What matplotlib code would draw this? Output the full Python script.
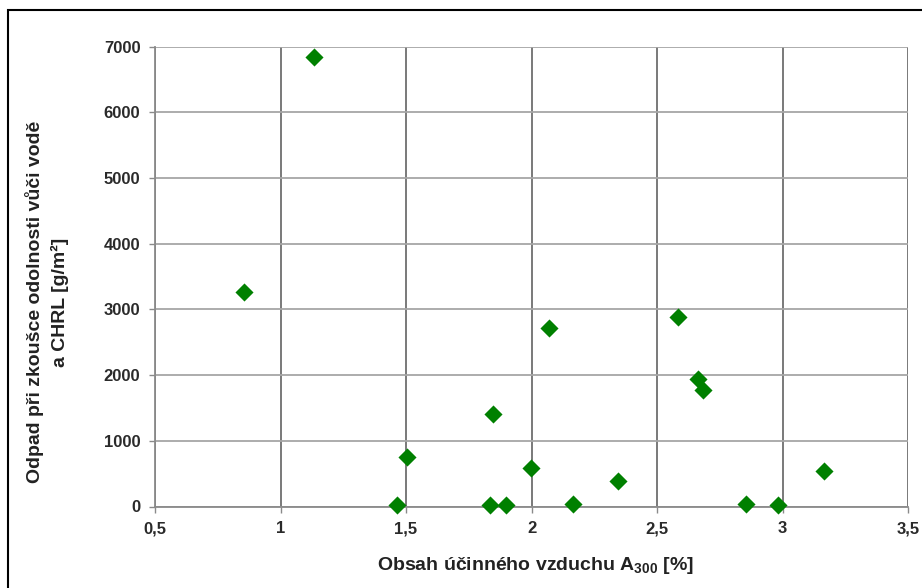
import matplotlib
matplotlib.use("Agg")
import matplotlib.pyplot as plt
from matplotlib.ticker import FuncFormatter, MultipleLocator
from matplotlib.patches import Rectangle

# Data
air_content = [0.856, 1.135, 1.463, 1.505, 1.848, 1.835, 1.898, 1.997, 2.070,
               2.164, 2.345, 2.585, 2.665, 2.685, 2.853, 2.983, 3.165]
scaling_mass = [3260, 6846, 25, 758, 1408, 25, 25, 581, 2717,
                40, 393, 2889, 1936, 1773, 40, 30, 545]

x_label = r"Obsah účinného vzduchu A$_{\mathbf{300}}$ [%]"
y_label_1 = "Odpad při zkoušce odolnosti vůči vodě"
y_label_2 = "a CHRL [g/m²]"

plt.rcParams['font.family'] = ['Liberation Sans', 'DejaVu Sans']
plt.rcParams['mathtext.fontset'] = 'custom'
plt.rcParams['mathtext.rm'] = 'Liberation Sans:bold'
plt.rcParams['mathtext.bf'] = 'Liberation Sans:bold'

W, H = 922, 588
fig = plt.figure(figsize=(W / 100, H / 100), dpi=100)
ax = fig.add_axes([155 / W, 81.5 / H, 753 / W, 459.9 / H])

ax.scatter(air_content, scaling_mass, marker='D', s=85, color='#008000',
           zorder=3, clip_on=False, linewidths=0)

ax.set_xlim(0.5, 3.5)
ax.set_ylim(0, 7000)
ax.xaxis.set_major_locator(MultipleLocator(0.5))
ax.yaxis.set_major_locator(MultipleLocator(1000))
ax.xaxis.set_major_formatter(FuncFormatter(lambda v, p: f"{v:g}".replace('.', ',')))
ax.yaxis.set_major_formatter(FuncFormatter(lambda v, p: f"{v:.0f}"))

for s in ['top', 'right']:
    ax.spines[s].set_visible(False)
for s in ['left', 'bottom']:
    ax.spines[s].set_color('#8a8a8a')
    ax.spines[s].set_linewidth(1.3)

ax.tick_params(axis='both', direction='out', length=4.5, width=1.0,
               color='#8a8a8a', labelsize=12, pad=6)
for lbl in ax.get_xticklabels() + ax.get_yticklabels():
    lbl.set_fontweight('bold')
    lbl.set_color('#2a2a2a')

ax.set_axisbelow(True)
ax.grid(axis='x', color='#6e6e6e', linewidth=1.3)
ax.grid(axis='y', color='#a6a6a6', linewidth=1.3)
fig.canvas.draw()
xg = ax.xaxis.get_gridlines()
yg = ax.yaxis.get_gridlines()
xg[-1].set_color('#d0d0d0')
yg[-1].set_color('#d8d8d8')

fig.text(535 / W, 1 - 565 / H, x_label, ha='center', va='center',
         fontsize=14, fontweight='bold', color='#222222')
fig.text(35 / W, 1 - 302 / H, y_label_1, ha='center', va='center',
         rotation=90, fontsize=14, fontweight='bold', color='#222222')
fig.text(60 / W, 1 - 302 / H, y_label_2, ha='center', va='center',
         rotation=90, fontsize=14, fontweight='bold', color='#222222')

fig.patches.append(Rectangle((8 / W, -0.1), 1.2, (H - 10) / H + 0.1,
                             transform=fig.transFigure, fill=False,
                             edgecolor='black', linewidth=1.5))

fig.savefig("out.png", dpi=100)
